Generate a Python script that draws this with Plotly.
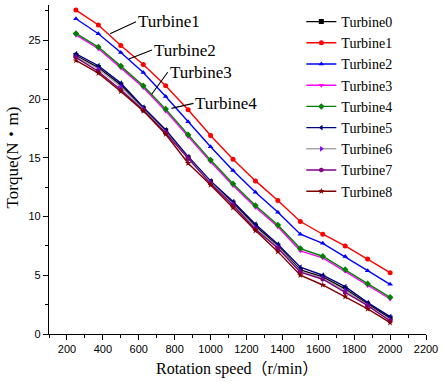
import plotly.graph_objects as go

speed = [250, 375, 500, 625, 750, 875, 1000, 1125, 1250, 1375, 1500, 1625, 1750, 1875, 2000]

turbine0 = [23.70, 22.68, 21.20, 19.20, 17.30, 15.00, 12.95, 11.15, 9.20, 7.50, 5.45, 4.85, 3.85, 2.55, 1.35]
turbine1 = [27.57, 26.30, 24.56, 22.94, 21.12, 19.08, 16.89, 14.88, 13.03, 11.36, 9.57, 8.49, 7.50, 6.39, 5.22]
turbine2 = [26.83, 25.55, 23.96, 22.26, 20.21, 18.06, 15.93, 13.91, 12.07, 10.37, 8.49, 7.72, 6.59, 5.39, 4.23]
turbine3 = [25.45, 24.28, 22.65, 20.98, 18.98, 16.80, 14.65, 12.63, 10.78, 9.12, 7.08, 6.48, 5.33, 4.13, 2.98]
turbine4 = [25.58, 24.42, 22.80, 21.12, 19.14, 16.95, 14.80, 12.78, 10.93, 9.28, 7.27, 6.62, 5.48, 4.28, 3.12]
turbine5 = [23.85, 22.83, 21.35, 19.30, 17.38, 15.10, 13.03, 11.27, 9.34, 7.64, 5.68, 5.00, 4.03, 2.67, 1.48]
turbine6 = [23.60, 22.55, 21.05, 19.15, 17.20, 14.95, 12.90, 11.05, 9.05, 7.40, 5.35, 4.75, 3.70, 2.45, 1.20]
turbine7 = [23.55, 22.34, 20.78, 19.05, 17.10, 14.96, 12.80, 10.95, 8.92, 7.30, 5.26, 4.66, 3.52, 2.41, 1.11]
turbine8 = [23.28, 22.20, 20.64, 18.99, 17.00, 14.54, 12.69, 10.76, 8.80, 7.01, 5.00, 4.17, 3.18, 2.13, 0.97]

names = ["Turbine0", "Turbine1", "Turbine2", "Turbine3", "Turbine4",
         "Turbine5", "Turbine6", "Turbine7", "Turbine8"]
series = [turbine0, turbine1, turbine2, turbine3, turbine4,
          turbine5, turbine6, turbine7, turbine8]
line_colors = ["#000000", "#ff0000", "#0000ff", "#ff00ff", "#008000",
               "#000080", "#a8a8a8", "#800080", "#800000"]
marker_colors = ["#000000", "#ff0000", "#0000ff", "#ff00ff", "#008000",
                 "#000080", "#8000ff", "#800080", "#800000"]
symbols = ["square", "circle", "triangle-up", "triangle-down", "diamond",
           "triangle-left", "triangle-right", "hexagon", "star"]

# callout labels: (text, x target, y target, ax, ay)
callouts = [
    ("Turbine1", 440, 25.55, 26, -12),
    ("Turbine2", 545, 23.40, 23, -9),
    ("Turbine3", 672, 20.40, 16, -22),
    ("Turbine4", 782, 19.20, 22, -5),
]

fig = go.Figure()
for name, ys, lc, mc, sym in zip(names, series, line_colors, marker_colors, symbols):
    fig.add_trace(go.Scatter(
        x=speed, y=ys, name=name, mode="lines+markers",
        line=dict(color=lc, width=1.4),
        marker=dict(color=mc, symbol=sym, size=5, line=dict(width=0)),
    ))

serif = "Liberation Serif, Times New Roman, Noto Sans CJK SC, serif"
sans = "Liberation Sans, Arial, sans-serif"

annotations = []
for text, xt, yt, ax, ay in callouts:
    annotations.append(dict(
        x=xt, y=yt, xref="x", yref="y", text=text, showarrow=True,
        arrowhead=0, arrowwidth=1.1, arrowcolor="#000000",
        ax=ax, ay=ay, xanchor="left", yanchor="middle",
        font=dict(family=serif, size=17, color="#000000"),
    ))

annotations.append(dict(
    x=(239 - 49) / 381, y=(382 - 48 - 369) / 329, xref="paper", yref="paper",
    text="Rotation speed（r/min）", showarrow=False,
    xanchor="center", yanchor="middle",
    font=dict(family=serif, size=16, color="#000000"),
))
annotations.append(dict(
    x=(13 - 49) / 381, y=(334 - 157) / 329, xref="paper", yref="paper",
    text="Torque(N・m)", textangle=-90, showarrow=False,
    xanchor="center", yanchor="middle",
    font=dict(family=serif, size=17, color="#000000"),
))

fig.update_layout(
    width=443, height=382,
    margin=dict(l=49, r=13, t=5, b=48, pad=0),
    paper_bgcolor="white", plot_bgcolor="white",
    showlegend=True,
    legend=dict(
        x=(304 - 49) / 381, y=1.0 - 1 / 329, xanchor="left", yanchor="top",
        font=dict(family=serif, size=14, color="#000000"),
        bgcolor="rgba(0,0,0,0)", borderwidth=0,
        itemwidth=30, tracegroupgap=0,
    ),
    annotations=annotations,
    xaxis=dict(
        range=[100, 2200], tick0=0, dtick=200, showgrid=False, zeroline=False,
        showline=True, linecolor="#000000", linewidth=1.3,
        ticks="outside", ticklen=5, tickwidth=1.2, tickcolor="#000000",
        tickfont=dict(family=sans, size=11, color="#000000"),
        minor=dict(dtick=100, tick0=0, ticks="outside", ticklen=3,
                   tickwidth=1.2, tickcolor="#000000"),
    ),
    yaxis=dict(
        range=[0, 28], tick0=0, dtick=5, showgrid=False, zeroline=False,
        showline=True, linecolor="#000000", linewidth=1.3,
        ticks="outside", ticklen=5, tickwidth=1.2, tickcolor="#000000",
        tickfont=dict(family=sans, size=11, color="#000000"),
        minor=dict(dtick=2.5, tick0=0, ticks="outside", ticklen=3,
                   tickwidth=1.2, tickcolor="#000000"),
    ),
)

fig.write_html("out.html")
